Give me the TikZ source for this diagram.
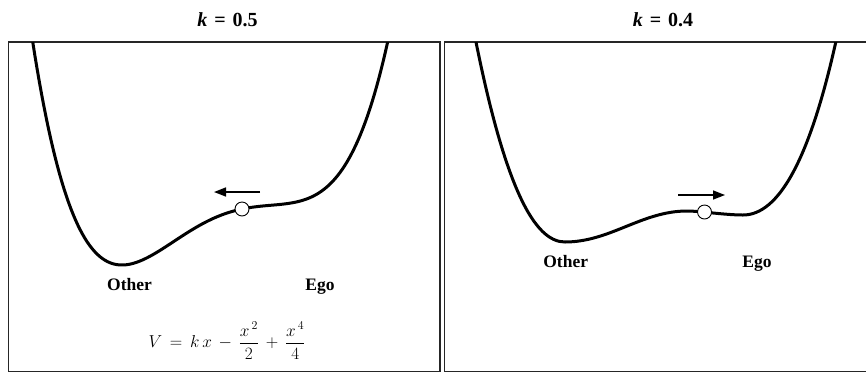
\documentclass[tikz,border=0pt]{standalone}
\usepackage{fontspec}
\setmainfont{Liberation Serif}
\usetikzlibrary{arrows.meta}
\tikzset{
  panel/.style={draw=black!85, line width=1.5pt},
  potential/.style={line width=3pt, line join=round},
  ball/.style={circle, draw=black, line width=0.9pt, fill=white, minimum size=14pt, inner sep=0pt},
  push/.style={line width=1.5pt, -{Triangle[length=12pt,width=9pt]}},
  title/.style={font=\fontsize{20}{24}\selectfont\bfseries},
  well/.style={font=\fontsize{17.5}{20}\selectfont\bfseries, anchor=base},
  formula/.style={font=\fontsize{17.5}{20}\selectfont}
}
\begin{document}
\begin{tikzpicture}[x=1pt,y=-1pt]
\useasboundingbox (0,0) rectangle (866,373);
% panels
\draw[panel] (8.5,42) rectangle (440,371.5);
\draw[panel] (444.5,42) rectangle (870,371.5);
% titles
\node[title] (t1) at (227.5,19.5) {\textit{k}\hspace{2pt} = \hspace{2pt}0.5};
\node[title] (t2) at (663,19.5) {\textit{k}\hspace{2pt} = \hspace{2pt}0.4};
% left potential  V = kx - x^2/2 + x^4/4, k = 0.5
\begin{scope}
\clip (8.5,42) rectangle (440,371.5);
\draw[potential] plot[domain=-2.28:1.99, samples=160, variable=\x]
  ({122+84.3*(\x+1.191)}, {265-62.8*(0.5*\x-\x*\x/2+\x*\x*\x*\x/4+0.8017)});
\end{scope}
\node[ball] (b1) at (242,209) {};
\coordinate (a1s) at (260,192);
\coordinate (a1e) at (214,192);
\draw[push] (a1s) -- (a1e);
\node[well] (o1) at (129.5,290) {Other};
\node[well] (e1) at (320,290) {Ego};
\node[formula] (f) at (227,341) {$\displaystyle V \,=\, k\,x \,-\, \frac{x^{\,2}}{2} \,+\, \frac{x^{\,4}}{4}$};
% right potential, k = 0.4
\begin{scope}
\clip (444.5,42) rectangle (870,371.5);
\draw[potential] (474,32) .. controls (505,190) and (535,242) .. (565,242)
  .. controls (610,242) and (642,211) .. (687,211)
  .. controls (700,211) and (725,215) .. (743,215)
  .. controls (778,215) and (810,162) .. (838,32);
\end{scope}
\node[ball] (b2) at (704.5,212) {};
\coordinate (a2s) at (678,195);
\coordinate (a2e) at (725,195);
\draw[push] (a2s) -- (a2e);
\node[well] (o2) at (565.7,267) {Other};
\node[well] (e2) at (757,267) {Ego};
\end{tikzpicture}
\end{document}
